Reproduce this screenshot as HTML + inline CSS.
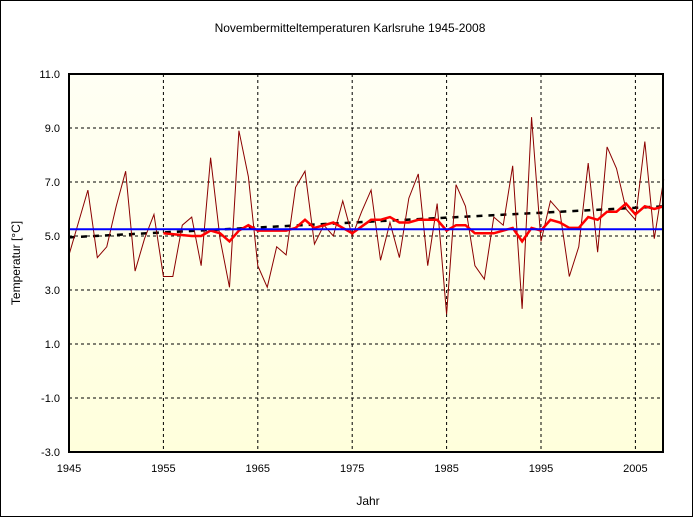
<!DOCTYPE html>
<html><head><meta charset="utf-8"><style>
body{margin:0;background:#fff}
svg{display:block;font-family:"Liberation Sans",Arial,sans-serif}
</style></head><body>
<svg id="s" width="694" height="518" viewBox="0 0 694 518">
<defs><linearGradient id="g" x1="0" y1="0" x2="0" y2="1"><stop offset="0" stop-color="#fffff4"/><stop offset="1" stop-color="#ffffdc"/></linearGradient></defs>
<rect x="0.5" y="0.5" width="692" height="516" fill="#fff" stroke="#000"/>
<rect x="69" y="74" width="595" height="378" fill="url(#g)"/>
<text x="350" y="32" font-size="12" text-anchor="middle">Novembermitteltemperaturen Karlsruhe 1945-2008</text>
<text x="368" y="505" font-size="12" text-anchor="middle">Jahr</text>
<text transform="translate(20,263) rotate(-90)" font-size="12" text-anchor="middle">Temperatur [°C]</text>
<g id="grid"></g>
<g id="data"></g>
<rect x="69" y="74" width="594" height="378" fill="none" stroke="#000" stroke-width="2"/>
</svg>
<script>
const X=y=>69+(y-1945)*9.44, Y=v=>236-(v-5)*27;
const ns="http://www.w3.org/2000/svg";
function el(p,t,a,txt){const e=document.createElementNS(ns,t);for(const k in a)e.setAttribute(k,a[k]);if(txt)e.textContent=txt;p.appendChild(e);return e;}
const g=document.getElementById('grid');
for(let v=-3;v<=11;v+=2){const y=Y(v);if(v>-3&&v<11)el(g,'line',{x1:69,x2:664,y1:y,y2:y,stroke:'#000','stroke-dasharray':'3,3'});
el(g,'text',{x:60,y:y+4,'font-size':11,'text-anchor':'end'},v.toFixed(1));}
for(let yr=1945;yr<=2005;yr+=10){const x=X(yr);if(yr>1945)el(g,'line',{x1:x,x2:x,y1:74,y2:452,stroke:'#000','stroke-dasharray':'3,3'});
el(g,'text',{x:x,y:472,'font-size':11,'text-anchor':'middle'},yr);}
const d=[4.3,5.5,6.7,4.2,4.6,6.1,7.4,3.7,4.9,5.8,3.5,3.5,5.4,5.7,3.9,7.9,4.9,3.1,8.9,7.2,3.9,3.1,4.6,4.3,6.8,7.4,4.7,5.4,5.0,6.3,5.0,5.9,6.7,4.1,5.5,4.2,6.4,7.3,3.9,6.2,2.1,6.9,6.1,3.9,3.4,5.7,5.4,7.6,2.3,9.4,4.8,6.3,5.9,3.5,4.6,7.7,4.4,8.3,7.5,6.0,5.6,8.5,4.9,7.1];
const dd=document.getElementById('data');
el(dd,'line',{x1:X(1945),x2:X(2008),y1:Y(4.95),y2:Y(6.1),stroke:'#000','stroke-width':2.5,'stroke-dasharray':'6,6'});
el(dd,'polyline',{points:d.map((v,i)=>X(1945+i)+','+Y(v)).join(' '),fill:'none',stroke:'#8b0000','stroke-width':1});
const r=[[1955,5.1],[1958,5.0],[1959,5.0],[1960,5.2],[1961,5.1],[1962,4.8],[1963,5.2],[1964,5.4],[1965,5.2],[1968,5.2],[1969,5.3],[1970,5.6],[1971,5.3],[1973,5.5],[1975,5.1],[1977,5.6],[1978,5.6],[1979,5.7],[1980,5.5],[1981,5.5],[1982,5.6],[1984,5.6],[1985,5.2],[1986,5.4],[1987,5.4],[1988,5.1],[1990,5.1],[1992,5.3],[1993,4.8],[1994,5.3],[1995,5.2],[1996,5.6],[1997,5.5],[1998,5.3],[1999,5.3],[2000,5.7],[2001,5.6],[2002,5.9],[2003,5.9],[2004,6.2],[2005,5.8],[2006,6.1],[2007,6.0],[2008,6.1]];
el(dd,'polyline',{points:r.map(p=>X(p[0])+','+Y(p[1])).join(' '),fill:'none',stroke:'#ff0000','stroke-width':2.5});
el(dd,'line',{x1:69,x2:664,y1:Y(5.25),y2:Y(5.25),stroke:'#0000ff','stroke-width':2});
</script>
</body></html>
